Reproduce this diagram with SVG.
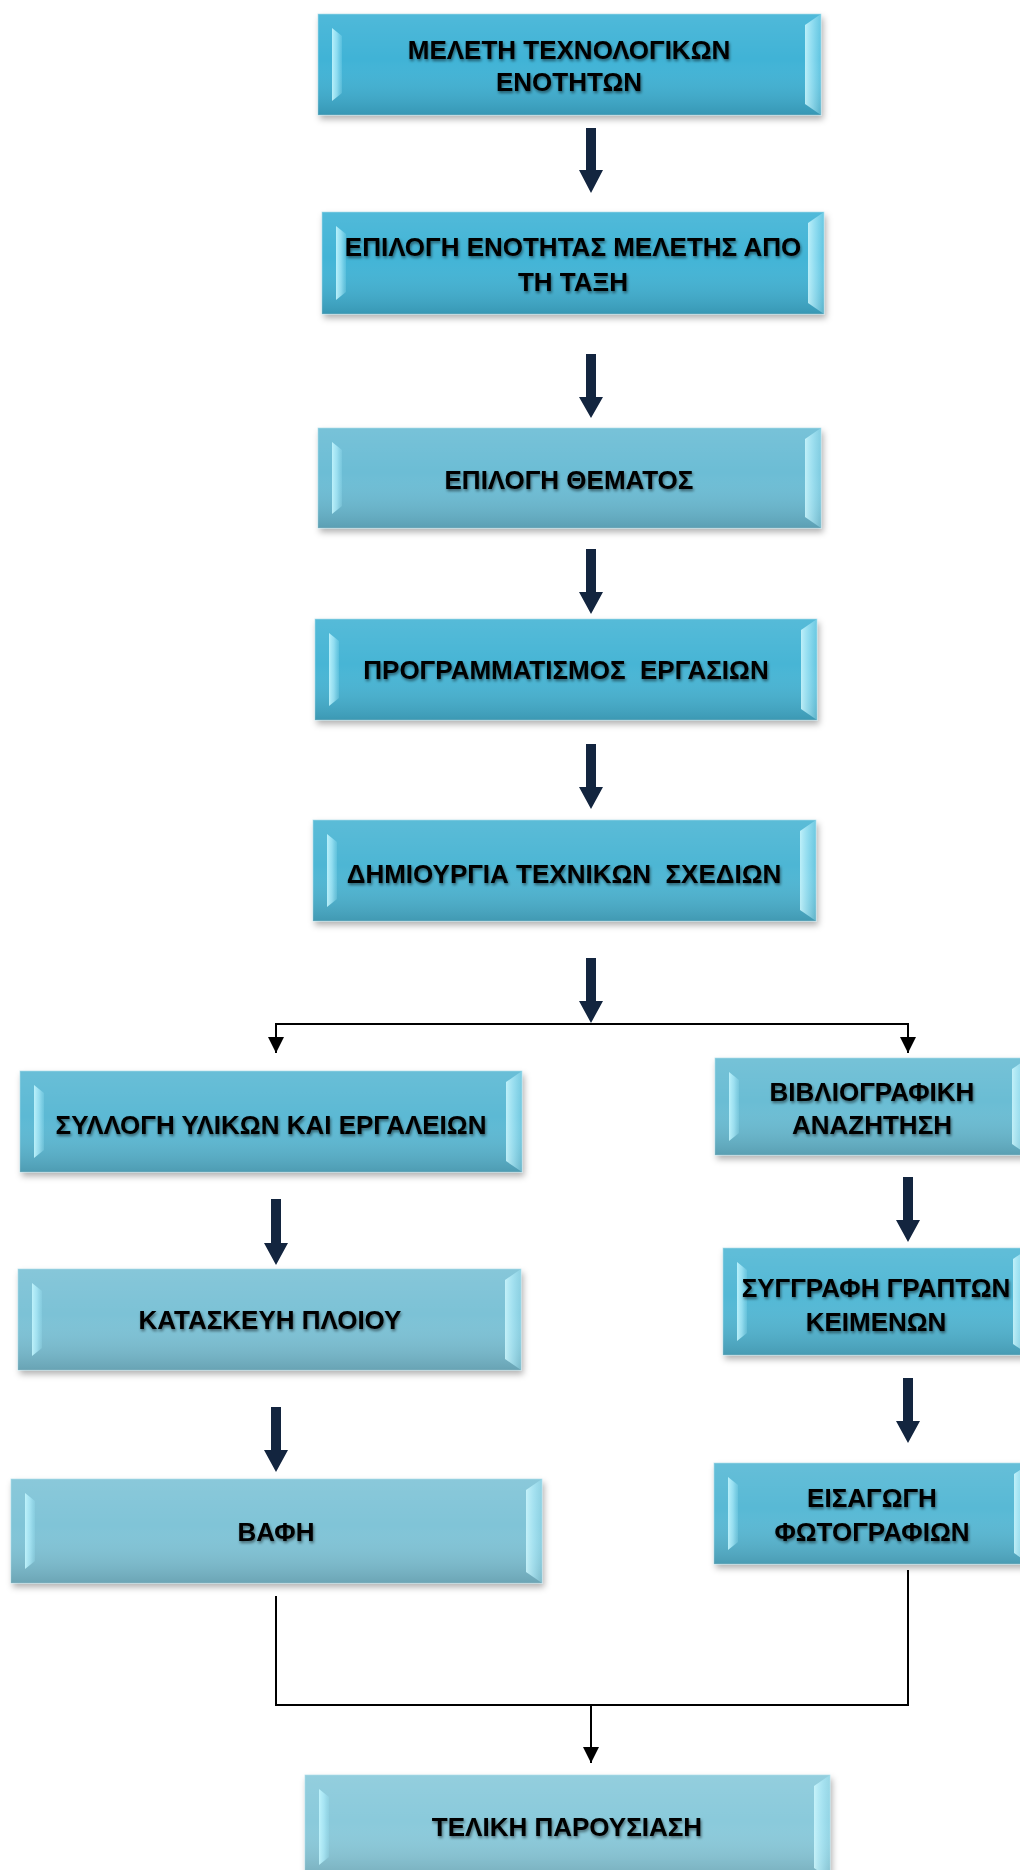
<svg xmlns="http://www.w3.org/2000/svg" width="1020" height="1870" viewBox="0 0 1020 1870">
<defs>
  <filter id="boxShadow" x="-5%" y="-10%" width="112%" height="130%">
    <feDropShadow dx="2" dy="4" stdDeviation="3" flood-color="#000" flood-opacity="0.3"/>
  </filter>
  <filter id="textShadow" x="-5%" y="-30%" width="110%" height="170%">
    <feGaussianBlur in="SourceAlpha" stdDeviation="1.6" result="b"/>
    <feOffset in="b" dx="1" dy="2" result="o"/>
    <feComponentTransfer in="o" result="s"><feFuncA type="linear" slope="0.5"/></feComponentTransfer>
    <feMerge><feMergeNode in="s"/><feMergeNode in="SourceGraphic"/></feMerge>
  </filter>
  <linearGradient id="faceShade" x1="0" y1="0" x2="0" y2="1">
    <stop offset="0" stop-color="#ffffff" stop-opacity="0.08"/>
    <stop offset="0.45" stop-color="#ffffff" stop-opacity="0"/>
    <stop offset="1" stop-color="#000000" stop-opacity="0.16"/>
  </linearGradient>
  <linearGradient id="bevL" x1="0" y1="0" x2="1" y2="0">
    <stop offset="0" stop-color="#c4f7ff" stop-opacity="0.9"/>
    <stop offset="0.5" stop-color="#b4f1ff" stop-opacity="0.65"/>
    <stop offset="1" stop-color="#a0e8f8" stop-opacity="0.2"/>
  </linearGradient>
  <linearGradient id="bevR" x1="0" y1="0" x2="1" y2="0">
    <stop offset="0" stop-color="#d0f9ff" stop-opacity="0.85"/>
    <stop offset="0.5" stop-color="#b8f2ff" stop-opacity="0.6"/>
    <stop offset="1" stop-color="#a8ecfa" stop-opacity="0.3"/>
  </linearGradient>
  <marker id="tip" viewBox="0 0 16 16" refX="16" refY="8" markerWidth="16" markerHeight="16" markerUnits="userSpaceOnUse" orient="auto">
    <path d="M0,0 L16,8 L0,16 z" fill="#000"/>
  </marker>
</defs>
<style>
  .face { filter: url(#boxShadow); stroke: #a6dbe8; stroke-width: 1; stroke-opacity: 0.6; }
  .shade { fill: url(#faceShade); }
  .bl { fill: url(#bevL); }
  .br { fill: url(#bevR); }
  .lbl { font-family: "Liberation Sans", Arial, sans-serif; font-weight: bold; font-size: 26px; fill: #000; text-anchor: middle; filter: url(#textShadow); }
  .thick { fill: #13253f; }
  .thin { fill: none; stroke: #000; stroke-width: 2; }
</style>
<rect width="1020" height="1870" fill="#ffffff"/>

<g id="connectors">
  <polygon class="thick" points="586,128 596,128 596,170 603,170 591,193 579,170 586,170"/>
  <polygon class="thick" points="586,354 596,354 596,397 603,397 591,418 579,397 586,397"/>
  <polygon class="thick" points="586,549 596,549 596,592 603,592 591,614 579,592 586,592"/>
  <polygon class="thick" points="586,744 596,744 596,787 603,787 591,809 579,787 586,787"/>
  <polygon class="thick" points="586,958 596,958 596,1001 603,1001 591,1023 579,1001 586,1001"/>
  <polygon class="thick" points="271,1199 281,1199 281,1243 288,1243 276,1265 264,1243 271,1243"/>
  <polygon class="thick" points="271,1407 281,1407 281,1450 288,1450 276,1472 264,1450 271,1450"/>
  <polygon class="thick" points="903,1177 913,1177 913,1220 920,1220 908,1242 896,1220 903,1220"/>
  <polygon class="thick" points="903,1378 913,1378 913,1421 920,1421 908,1443 896,1421 903,1421"/>
  <path class="thin" d="M591,1024 H276 V1053" marker-end="url(#tip)"/>
  <path class="thin" d="M591,1024 H908 V1053" marker-end="url(#tip)"/>
  <path class="thin" d="M276,1596 V1705 H908 V1570"/>
  <path class="thin" d="M591,1705 V1763" marker-end="url(#tip)"/>
</g>

<g id="n1">
  <rect class="face" x="318" y="14" width="503" height="101" fill="#40b3d6"/>
  <rect class="shade" x="318" y="14" width="503" height="101"/>
  <polygon class="bl" points="332,28 342,36 342,93 332,101"/>
  <polygon class="br" points="805,25 821,14 821,115 805,104"/>
  <text class="lbl" x="569" y="59">ΜΕΛΕΤΗ ΤΕΧΝΟΛΟΓΙΚΩΝ</text>
  <text class="lbl" x="569" y="91">ΕΝΟΤΗΤΩΝ</text>
</g>

<g id="n2">
  <rect class="face" x="322" y="212" width="502" height="102" fill="#42b4d6"/>
  <rect class="shade" x="322" y="212" width="502" height="102"/>
  <polygon class="bl" points="336,226 346,234 346,292 336,300"/>
  <polygon class="br" points="808,223 824,212 824,314 808,303"/>
  <text class="lbl" x="573" y="256">ΕΠΙΛΟΓΗ ΕΝΟΤΗΤΑΣ ΜΕΛΕΤΗΣ ΑΠΟ</text>
  <text class="lbl" x="573" y="291">ΤΗ ΤΑΞΗ</text>
</g>

<g id="n3">
  <rect class="face" x="318" y="428" width="503" height="100" fill="#6cbdd5"/>
  <rect class="shade" x="318" y="428" width="503" height="100"/>
  <polygon class="bl" points="332,442 342,450 342,506 332,514"/>
  <polygon class="br" points="805,439 821,428 821,528 805,517"/>
  <text class="lbl" x="569" y="489">ΕΠΙΛΟΓΗ ΘΕΜΑΤΟΣ</text>
</g>

<g id="n4">
  <rect class="face" x="315" y="619" width="502" height="101" fill="#47b5d5"/>
  <rect class="shade" x="315" y="619" width="502" height="101"/>
  <polygon class="bl" points="329,633 339,641 339,698 329,706"/>
  <polygon class="br" points="801,630 817,619 817,720 801,709"/>
  <text class="lbl" x="566" y="679" xml:space="preserve">ΠΡΟΓΡΑΜΜΑΤΙΣΜΟΣ  ΕΡΓΑΣΙΩΝ</text>
</g>

<g id="n5">
  <rect class="face" x="313" y="820" width="503" height="101" fill="#4db6d4"/>
  <rect class="shade" x="313" y="820" width="503" height="101"/>
  <polygon class="bl" points="327,834 337,842 337,899 327,907"/>
  <polygon class="br" points="800,831 816,820 816,921 800,910"/>
  <text class="lbl" x="564" y="883" xml:space="preserve">ΔΗΜΙΟΥΡΓΙΑ ΤΕΧΝΙΚΩΝ  ΣΧΕΔΙΩΝ</text>
</g>

<g id="n6">
  <rect class="face" x="20" y="1071" width="502" height="101" fill="#5cb9d4"/>
  <rect class="shade" x="20" y="1071" width="502" height="101"/>
  <polygon class="bl" points="34,1085 44,1093 44,1150 34,1158"/>
  <polygon class="br" points="506,1082 522,1071 522,1172 506,1161"/>
  <text class="lbl" x="271" y="1134">ΣΥΛΛΟΓΗ ΥΛΙΚΩΝ ΚΑΙ ΕΡΓΑΛΕΙΩΝ</text>
</g>

<g id="n7">
  <rect class="face" x="715" y="1058" width="313" height="97" fill="#6bbdd4"/>
  <rect class="shade" x="715" y="1058" width="313" height="97"/>
  <polygon class="bl" points="729,1072 739,1080 739,1133 729,1141"/>
  <polygon class="br" points="1012,1069 1028,1058 1028,1155 1012,1144"/>
  <text class="lbl" x="872" y="1101">ΒΙΒΛΙΟΓΡΑΦΙΚΗ</text>
  <text class="lbl" x="872" y="1134">ΑΝΑΖΗΤΗΣΗ</text>
</g>

<g id="n8">
  <rect class="face" x="18" y="1269" width="503" height="101" fill="#7bc2d6"/>
  <rect class="shade" x="18" y="1269" width="503" height="101"/>
  <polygon class="bl" points="32,1283 42,1291 42,1348 32,1356"/>
  <polygon class="br" points="505,1280 521,1269 521,1370 505,1359"/>
  <text class="lbl" x="270" y="1329">ΚΑΤΑΣΚΕΥΗ ΠΛΟΙΟΥ</text>
</g>

<g id="n9">
  <rect class="face" x="723" y="1248" width="306" height="107" fill="#53b8d5"/>
  <rect class="shade" x="723" y="1248" width="306" height="107"/>
  <polygon class="bl" points="737,1262 747,1270 747,1333 737,1341"/>
  <polygon class="br" points="1013,1259 1029,1248 1029,1355 1013,1344"/>
  <text class="lbl" x="876" y="1297">ΣΥΓΓΡΑΦΗ ΓΡΑΠΤΩΝ</text>
  <text class="lbl" x="876" y="1331">ΚΕΙΜΕΝΩΝ</text>
</g>

<g id="n10">
  <rect class="face" x="11" y="1479" width="531" height="104" fill="#80c4d7"/>
  <rect class="shade" x="11" y="1479" width="531" height="104"/>
  <polygon class="bl" points="25,1493 35,1501 35,1561 25,1569"/>
  <polygon class="br" points="526,1490 542,1479 542,1583 526,1572"/>
  <text class="lbl" x="276" y="1541">ΒΑΦΗ</text>
</g>

<g id="n11">
  <rect class="face" x="714" y="1463" width="316" height="101" fill="#58b9d5"/>
  <rect class="shade" x="714" y="1463" width="316" height="101"/>
  <polygon class="bl" points="728,1477 738,1485 738,1542 728,1550"/>
  <polygon class="br" points="1014,1474 1030,1463 1030,1564 1014,1553"/>
  <text class="lbl" x="872" y="1507">ΕΙΣΑΓΩΓΗ</text>
  <text class="lbl" x="872" y="1541">ΦΩΤΟΓΡΑΦΙΩΝ</text>
</g>

<g id="n12">
  <rect class="face" x="305" y="1775" width="525" height="104" fill="#8acadb"/>
  <rect class="shade" x="305" y="1775" width="525" height="104"/>
  <polygon class="bl" points="319,1789 329,1797 329,1857 319,1865"/>
  <polygon class="br" points="814,1786 830,1775 830,1879 814,1868"/>
  <text class="lbl" x="567" y="1836">ΤΕΛΙΚΗ ΠΑΡΟΥΣΙΑΣΗ</text>
</g>
</svg>
